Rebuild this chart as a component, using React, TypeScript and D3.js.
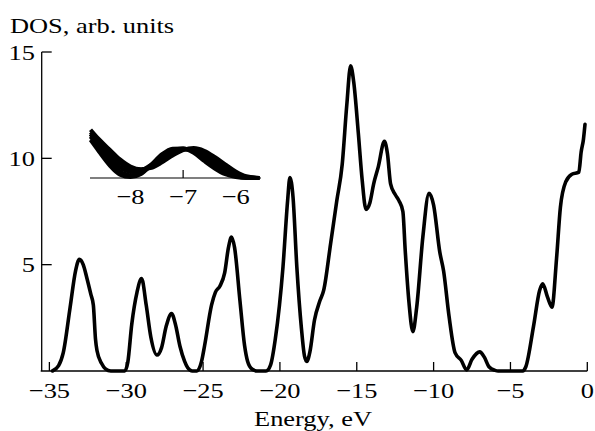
import React from "react";
import * as d3 from "d3";

// main DOS curve
const energy = [
  -34.8, -34.4, -34.1, -33.65, -33.3, -33.05, -32.8, -32.57, -32.3, -32.14, -32.0, -31.9, -31.6, -31.35, -31.0,
  -30.1, -29.9, -29.64, -29.3, -29.0, -28.7, -28.4, -28.0, -27.7, -27.4, -27.05, -26.8, -26.5, -26.2, -26.0, -25.7,
  -25.4, -25.1, -24.9, -24.45, -24.2, -23.9, -23.6, -23.35, -23.15, -22.95, -22.6, -22.3, -22.1, -21.8, -21.5,
  -20.9, -20.6, -20.3, -19.8, -19.5, -19.35, -19.15, -18.9, -18.6, -18.4, -18.25, -18.05, -17.75, -17.4, -17.15,
  -16.7, -16.3, -15.95, -15.65, -15.4, -15.2, -14.9, -14.65, -14.4, -14.15, -13.9, -13.6, -13.2, -13.0, -12.8,
  -12.5, -12.25, -12.0, -11.85, -11.6, -11.35, -11.1, -10.7, -10.3, -10.0, -9.6, -9.35, -9.0, -8.6, -8.2, -7.85,
  -7.5, -7.0, -6.7, -6.4, -6.0, -5.8, -4.2, -4.0, -3.5, -3.1, -2.9, -2.6, -2.3, -2.0, -1.75, -1.4, -1.0, -0.55,
  -0.4, -0.25, -0.15,
];
const dos = [
  0, 0.25, 0.85, 3.0, 4.7, 5.25, 5.0, 4.4, 3.6, 3.1, 1.5, 0.95, 0.35, 0.1, 0,
  0, 0.4, 2.2, 3.7, 4.35, 3.1, 1.6, 0.75, 1.1, 2.1, 2.7, 2.2, 1.15, 0.45, 0.15, 0,
  0, 0.45, 1.2, 3.1, 3.7, 4.0, 4.6, 5.8, 6.3, 5.8, 3.3, 1.2, 0.45, 0.08, 0,
  0, 0.3, 1.5, 4.9, 8.0, 9.1, 8.2, 4.9, 2.0, 0.7, 0.45, 0.9, 2.4, 3.3, 3.8,
  6.0, 8.0, 9.7, 12.5, 14.35, 13.6, 11.2, 9.0, 7.6, 7.9, 8.8, 9.6, 10.8, 10.2, 8.8,
  8.3, 8.0, 7.5, 5.7, 3.2, 1.85, 3.0, 6.3, 8.35, 7.8, 5.6, 4.7, 2.6, 0.85, 0.5, 0.05,
  0.55, 0.9, 0.65, 0.2, 0.03, 0, 0, 0.2, 2.1, 3.8, 4.1, 3.5, 3.0, 5.3, 7.7, 8.9, 9.25, 9.35,
  10.3, 10.9, 11.6,
];

const xTicks = [-35, -30, -25, -20, -15, -10, -5, 0];
const yTicks = [5, 10, 15];

// inset: band of curves around -7 eV
const insetEnergy = [-8.76, -8.6, -8.4, -8.2, -8.0, -7.8, -7.6, -7.4, -7.2, -7.0, -6.8, -6.6, -6.4, -6.2, -6.0, -5.8, -5.55];
const insetCurve1 = [1.12, 0.78, 0.38, 0.1, 0.03, 0.12, 0.4, 0.7, 0.86, 0.87, 0.74, 0.5, 0.28, 0.11, 0.03, 0, 0];
const insetCurve2 = [1.22, 0.88, 0.5, 0.2, 0.08, 0.15, 0.38, 0.64, 0.82, 0.87, 0.78, 0.57, 0.36, 0.17, 0.06, 0.01, 0];
const insetCurve3 = [1.29, 0.97, 0.62, 0.32, 0.18, 0.22, 0.4, 0.62, 0.79, 0.85, 0.8, 0.64, 0.43, 0.23, 0.09, 0.02, 0];
const insetCurve4 = [1.35, 1.06, 0.73, 0.44, 0.26, 0.24, 0.35, 0.54, 0.73, 0.84, 0.85, 0.72, 0.52, 0.31, 0.14, 0.03, 0];
const insetCurve5 = [1.42, 1.14, 0.84, 0.55, 0.34, 0.26, 0.3, 0.46, 0.66, 0.82, 0.88, 0.8, 0.62, 0.4, 0.19, 0.05, 0];
const insetTicks = [-8, -7, -6];

const W = 595;
const H = 431;
const font = "'Liberation Serif', 'DejaVu Serif', serif";
const fs = 22;
const stretch = 1.2;

const Label = ({ x, y, anchor, children }: any) => (
  <text
    transform={`translate(${x},${y}) scale(${stretch},1)`}
    textAnchor={anchor}
    fontFamily={font}
    fontSize={fs}
    fill="#000"
  >
    {children}
  </text>
);

const App = () => {
  const xScale = d3.scaleLinear().domain([-35.5, 0]).range([41.7, 587.3]);
  const yScale = d3.scaleLinear().domain([0, 15]).range([371, 52]);

  const line = d3
    .line<number>()
    .curve(d3.curveMonotoneX)
    .x((i) => xScale(energy[i]))
    .y((i) => yScale(dos[i]));

  const ix = d3.scaleLinear().domain([-8.77, -5.52]).range([90, 261]);
  const iy = d3.scaleLinear().domain([0, 1]).range([178, 144]);
  const insetLine = d3
    .line<number>()
    .curve(d3.curveMonotoneX)
    .x((_, i) => ix(insetEnergy[i]))
    .y((d) => iy(d));
  const insetCurves = [insetCurve1, insetCurve2, insetCurve3, insetCurve4, insetCurve5];

  const y0 = yScale(0);
  const fmt = (v: number) => (v < 0 ? "\u2212" + Math.abs(v) : String(v));

  return (
    <div style={{ position: "absolute", left: 0, top: 0 }}>
      <svg width={W} height={H} viewBox={`0 0 ${W} ${H}`} style={{ display: "block", background: "#fff" }}>
        {/* axes */}
        <g stroke="#000" strokeWidth={1.3} fill="none">
          <line x1={40.7} x2={xScale(0)} y1={y0} y2={y0} />
          <line x1={xScale.range()[0]} x2={xScale.range()[0]} y1={y0} y2={yScale(15)} />
          {xTicks.map((t) => (
            <line key={t} x1={xScale(t)} x2={xScale(t)} y1={y0} y2={y0 - 9} />
          ))}
          {yTicks.map((t) => (
            <line key={t} x1={xScale.range()[0]} x2={xScale.range()[0] + 10} y1={yScale(t)} y2={yScale(t)} />
          ))}
        </g>
        {xTicks.map((t) => (
          <Label key={t} x={xScale(t)} y={398} anchor="middle">
            {fmt(t)}
          </Label>
        ))}
        {yTicks.map((t) => (
          <Label key={t} x={35} y={yScale(t) + 7.5} anchor="end">
            {fmt(t)}
          </Label>
        ))}
        <Label x={313} y={426} anchor="middle">
          Energy, eV
        </Label>
        <Label x={10} y={33} anchor="start">
          DOS, arb. units
        </Label>

        {/* main curve */}
        <path
          d={line(d3.range(energy.length)) || ""}
          fill="none"
          stroke="#000"
          strokeWidth={3.6}
          strokeLinejoin="round"
          strokeLinecap="round"
        />

        {/* inset */}
        <g stroke="#000" strokeWidth={1.2} fill="none">
          <line x1={ix.range()[0]} x2={ix.range()[1]} y1={iy(0)} y2={iy(0)} />
          {insetTicks.map((t) => (
            <line key={t} x1={ix(t)} x2={ix(t)} y1={iy(0)} y2={iy(0) - 8} />
          ))}
        </g>
        {insetCurves.map((c, k) => (
          <path key={k} d={insetLine(c) || ""} fill="none" stroke="#000" strokeWidth={4} />
        ))}
        {insetTicks.map((t) => (
          <Label key={t} x={ix(t)} y={204} anchor="middle">
            {fmt(t)}
          </Label>
        ))}
      </svg>
    </div>
  );
};

export default App;
